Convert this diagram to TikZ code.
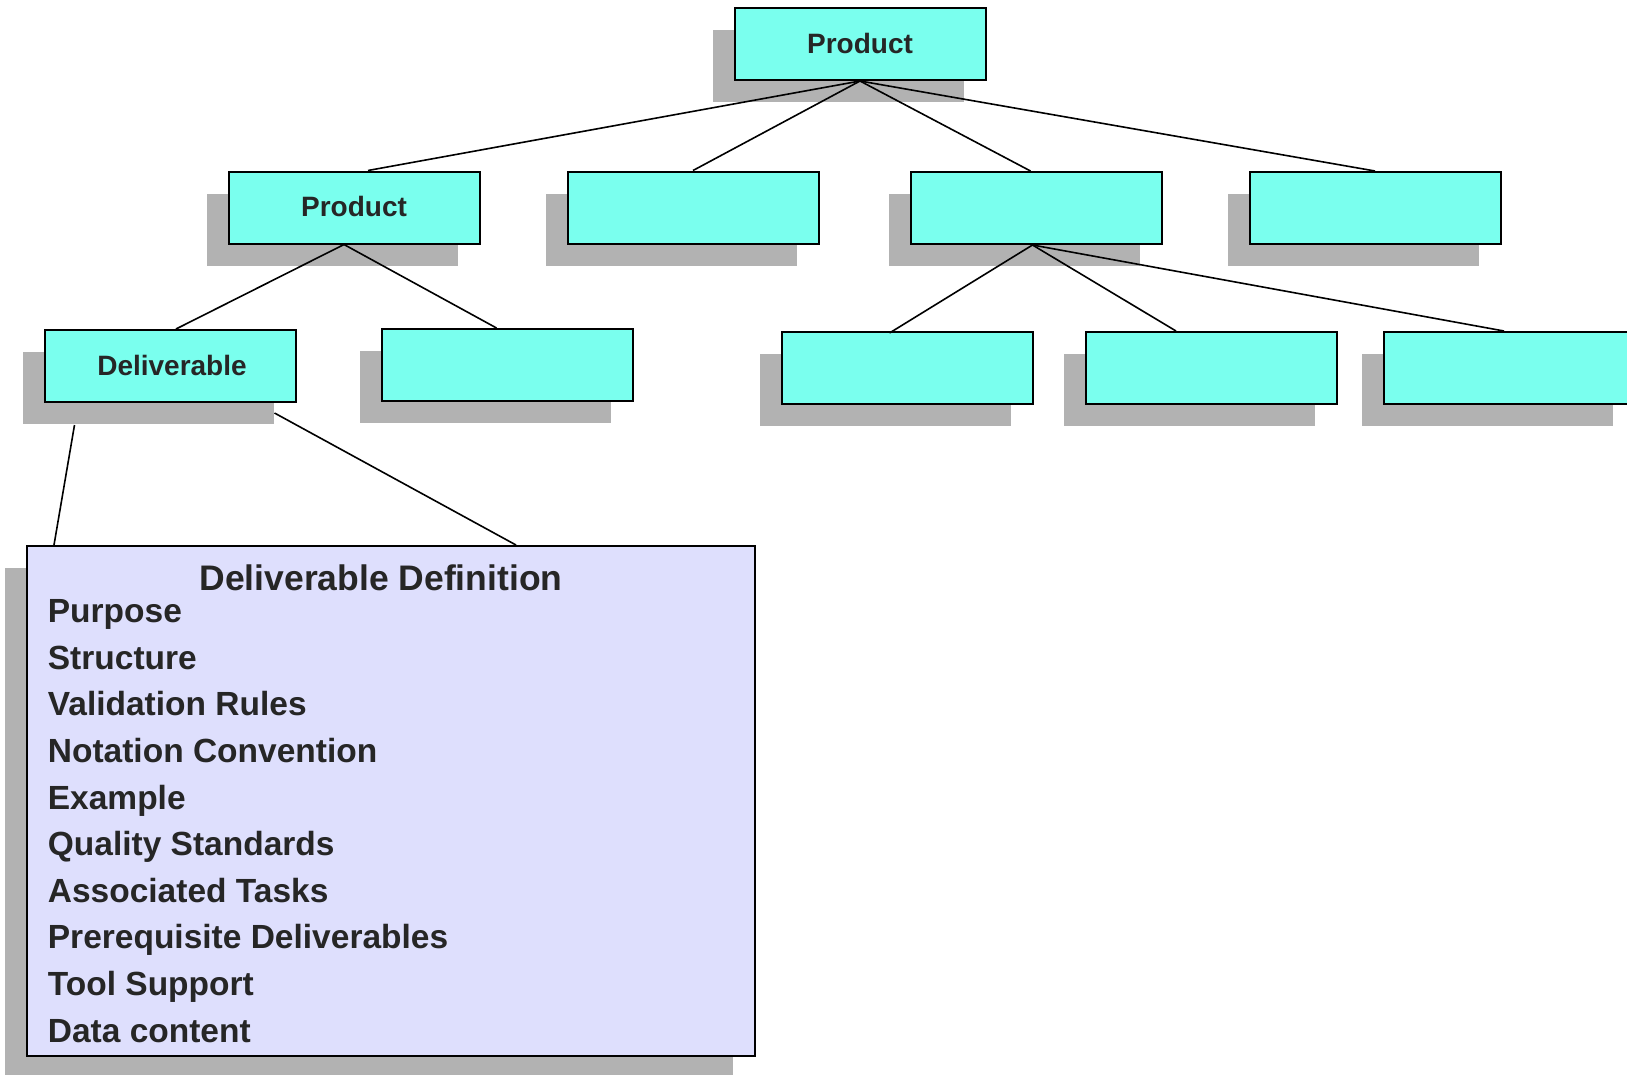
\documentclass[tikz,border=0pt]{standalone}
\usepackage{fontspec}
\setmainfont{Liberation Sans}
\usepackage{tikz}
\usetikzlibrary{shadows, calc, positioning}
\definecolor{CyanBox}   {RGB}{122,255,238}
\definecolor{Lavender}  {RGB}{222,223,253}
\definecolor{ShadowGray}{RGB}{178,178,178}
\definecolor{InkGray}   {RGB}{38, 38, 38}

\begin{document}
\begin{tikzpicture}[x=1pt,y=-1pt,
    prodbox/.style={draw=black,line width=2pt,fill=CyanBox,text=InkGray,minimum width=251pt,minimum height=72pt,inner sep=0pt,font=\fontsize{28}{30}\selectfont\bfseries,drop shadow={shadow xshift=-22pt,shadow yshift=-22pt,fill=ShadowGray,opacity=1}},
    defbox/.style={draw=black,line width=2pt,fill=Lavender,minimum width=728pt,minimum height=510pt,inner sep=0pt,drop shadow={shadow xshift=-22pt,shadow yshift=-22pt,fill=ShadowGray,opacity=1}},
    entry/.style={text=InkGray,inner sep=0pt,anchor=base west,font=\fontsize{33.5}{36}\selectfont\bfseries},
    link/.style={line width=1.6pt}]
      \useasboundingbox (0,0) rectangle (1627,1074);
      % product tree
      \node[prodbox] (top) at (860,44) {\raisebox{2pt}{Product}};
      \node[prodbox] (p1) at (354,207.5) {\raisebox{2pt}{Product}};
      \node[prodbox] (p2) at (693,207.5) {};
      \node[prodbox] (p3) at (1036.5,208) {};
      \node[prodbox] (p4) at (1375,208) {};
      \node[prodbox] (deliv) at (170,366) {\hspace*{4pt}\raisebox{1pt}{Deliverable}};
      \node[prodbox] (d2) at (507.5,365) {};
      \node[prodbox] (d3) at (907.5,368) {};
      \node[prodbox] (d4) at (1211,368) {};
      \node[prodbox] (d5) at (1509,368) {};
      \draw[link] (top.south) -- ([xshift=14pt]p1.north);
      \draw[link] (top.south) -- (p2.north);
      \draw[link] (top.south) -- ([xshift=-6pt]p3.north);
      \draw[link] (top.south) -- (p4.north);
      \draw[link] ([xshift=-10pt]p1.south) -- ([xshift=6pt]deliv.north);
      \draw[link] ([xshift=-10pt]p1.south) -- ([xshift=-11pt]d2.north);
      \draw[link] ([xshift=-4pt]p3.south) -- ([xshift=-18pt,yshift=-2pt]d3.north);
      \draw[link] ([xshift=-4pt]p3.south) -- ([xshift=-35pt]d4.north);
      \draw[link] ([xshift=-4pt]p3.south) -- ([xshift=-5pt]d5.north);
      % definition panel
      \node[defbox] (defn) at (391,801) {};
      \coordinate (dl) at ($(deliv.south west)+(31,22)$);
      \coordinate (dr) at ($(deliv.south east)+(-22,10)$);
      \draw[link] (dl) -- ([xshift=28pt]defn.north west);
      \draw[link] (dr) -- ([xshift=125pt]defn.north);
      \node[text=InkGray,inner sep=0pt,anchor=base,font=\fontsize{35.5}{38}\selectfont\bfseries] (title) at (381,590) {Deliverable Definition};
      \foreach \txt [count=\i from 0] in {Purpose,Structure,Validation Rules,Notation Convention,Example,Quality Standards,Associated Tasks,Prerequisite Deliverables,Tool Support,Data content}
        \node[entry] (item\i) at (47.7,622.6+46.6*\i) {\txt};
    \end{tikzpicture}
\end{document}
